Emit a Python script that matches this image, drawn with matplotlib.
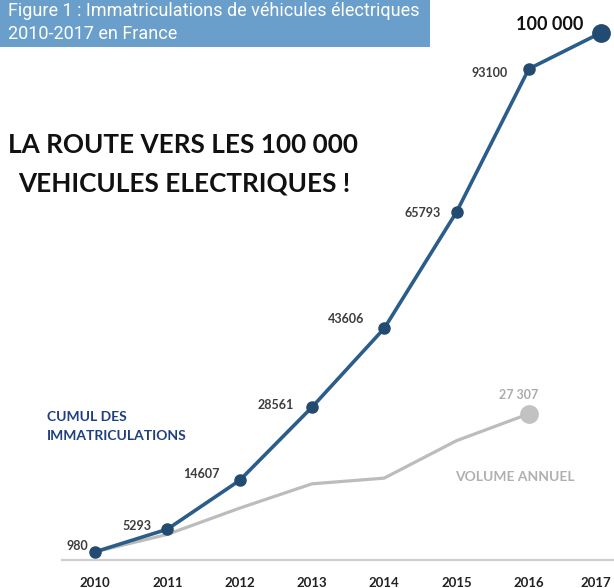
import matplotlib
matplotlib.use("Agg")
import matplotlib.pyplot as plt
import matplotlib.transforms as mtransforms
from matplotlib import font_manager
from matplotlib.patches import Rectangle

# Data
years = [2010, 2011, 2012, 2013, 2014, 2015, 2016, 2017]
cumul = [980, 5293, 14607, 28561, 43606, 65793, 93100, 100000]
annual_years = [2010, 2011, 2012, 2013, 2014, 2015, 2016]
annual = [980, 4313, 9314, 13954, 15045, 22187, 27307]
cumul_labels = ["980", "5293", "14607", "28561", "43606", "65793", "93100", "100 000"]
# label offsets (pixels) relative to each point
label_dx = [-7, -16, -20, -18, -20, -16, -21, -18]
label_dy = [6, 3, 6, 2, 9, -1, -4, 8]

W, H = 614, 588


def pick(families, fallback="DejaVu Sans"):
    names = {f.name for f in font_manager.fontManager.ttflist}
    for f in families:
        if f in names:
            return f
    return fallback


main_font = pick(["Lato", "Open Sans", "DejaVu Sans"])
box_font = pick(["Liberation Sans Narrow", "Roboto", "DejaVu Sans"])
plt.rcParams["font.family"] = [main_font, "DejaVu Sans"]

fig = plt.figure(figsize=(W / 100, H / 100), dpi=100)
ax = fig.add_axes([0, 0, 1, 1])

# pixel -> data mapping chosen so points land where they sit in the picture
ax.set_xlim(2008.686, 2017.178)
ax.set_ylim(-5913, 106237)

blue = "#2b5d8b"
navy = "#234a70"
grey = "#bcbcbc"

ax.plot(annual_years, annual, color=grey, lw=2.3, zorder=2)
ax.plot(annual_years[-1], annual[-1], "o", color="#c2c2c2", ms=12.5, zorder=3)

ax.plot(years, cumul, color=blue, lw=2.6, zorder=4)
ax.plot(years[:-1], cumul[:-1], "o", color=navy, ms=8, zorder=5)
ax.plot(years[-1], cumul[-1], "o", color=navy, ms=12.5, zorder=5)

for i, (x, y, lab) in enumerate(zip(years, cumul, cumul_labels)):
    big = i == len(years) - 1
    ax.annotate(lab, (x, y), xytext=(label_dx[i], label_dy[i]), textcoords="offset pixels",
                ha="right", va="center", fontsize=13 if big else 9, fontweight="bold",
                color="#111111" if big else "#3d3d3d", zorder=6)

ax.annotate("27 307", (annual_years[-1], annual[-1]), xytext=(-10, 19), textcoords="offset pixels",
            ha="center", va="center", fontsize=9, fontweight="bold", color="#ababab")

# baseline and year labels
for s in ["left", "right", "top"]:
    ax.spines[s].set_visible(False)
ax.spines["bottom"].set_position(("data", -572))
ax.spines["bottom"].set_bounds(2009.544, 2017.178)
ax.spines["bottom"].set_color("#cfcfcf")
ax.spines["bottom"].set_linewidth(1.6)
ax.set_yticks([])
ax.set_xticks(years)
ax.set_xticklabels([str(y) for y in years], fontsize=9.5, fontweight="bold", color="#222222")
ax.tick_params(axis="x", length=0, pad=12)
last = ax.get_xticklabels()[-1]
last.set_transform(last.get_transform() + mtransforms.ScaledTranslation(-5 / 100, 0, fig.dpi_scale_trans))
ax.set_facecolor("white")

# free text
fig.text(47 / W, 1 - 417 / H, "CUMUL DES", fontsize=10, fontweight="bold", color="#1f3f7f",
         va="center", ha="left")
fig.text(47 / W, 1 - 436 / H, "IMMATRICULATIONS", fontsize=10, fontweight="bold", color="#1f3f7f",
         va="center", ha="left")
fig.text(455 / W, 1 - 477 / H, "VOLUME ANNUEL", fontsize=10, fontweight="bold", color="#b0b0b0",
         va="center", ha="left")

fig.text(183 / W, 1 - 145 / H, "LA ROUTE VERS LES 100 000", fontsize=18.8, fontweight="bold",
         color="#111111", ha="center", va="center")
fig.text(184 / W, 1 - 183 / H, "VEHICULES ELECTRIQUES !", fontsize=18.8, fontweight="bold",
         color="#111111", ha="center", va="center")

# header box
fig.patches.append(Rectangle((0, 1 - 47 / H), 430 / W, 47 / H, transform=fig.transFigure,
                             facecolor="#6a9fcc", edgecolor="none", zorder=10))
t1 = fig.text(8 / W, 1 - 11 / H, "Figure 1 : Immatriculations de véhicules électriques",
              fontsize=14, color="white", family=[box_font, "DejaVu Sans"], va="center", zorder=11)
t2 = fig.text(8 / W, 1 - 34 / H, "2010-2017 en France",
              fontsize=14, color="white", family=[box_font, "DejaVu Sans"], va="center", zorder=11)

# shrink the header font until the first line fits inside the box
renderer = fig.canvas.get_renderer()
size = 14
while t1.get_window_extent(renderer).width > 414 and size > 8:
    size -= 0.25
    t1.set_fontsize(size)
t2.set_fontsize(size)

fig.savefig("out.png", dpi=100)
